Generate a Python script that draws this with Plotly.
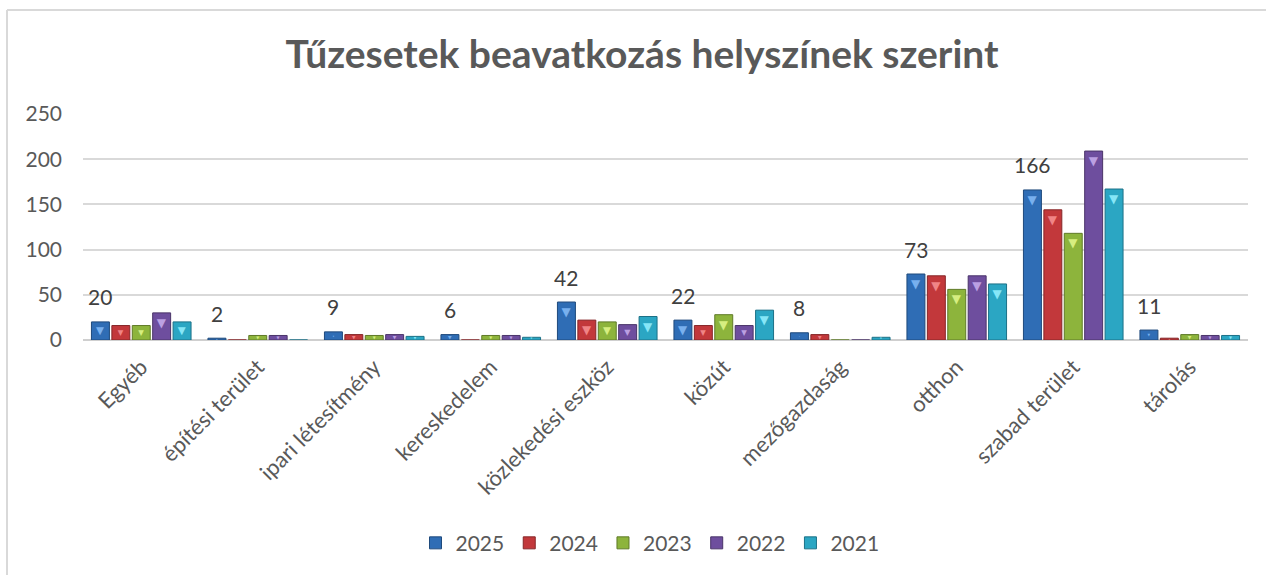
import plotly.graph_objects as go

categories = ["Egyéb", "építési terület", "ipari létesítmény", "kereskedelem",
              "közlekedési eszköz", "közút", "mezőgazdaság", "otthon",
              "szabad terület", "tárolás"]
years = ["2025", "2024", "2023", "2022", "2021"]
v2025 = [20, 2, 9, 6, 42, 22, 8, 73, 166, 11]
v2024 = [16, 0, 6, 0, 22, 16, 6, 71, 144, 2]
v2023 = [16, 5, 5, 5, 20, 28, 0, 56, 118, 6]
v2022 = [30, 5, 6, 5, 17, 16, 0, 71, 209, 5]
v2021 = [20, 0, 4, 3, 26, 33, 3, 62, 167, 5]
series = [v2025, v2024, v2023, v2022, v2021]
y_ticks = [0, 50, 100, 150, 200, 250]

colors = ["#2F6DB5", "#C2383B", "#8DB43C", "#6E4E9E", "#2BA6C3"]
edges = ["#1F4A7C", "#862628", "#5F7A28", "#4A3469", "#1C7187"]
bevels = ["#78B0EE", "#F08486", "#D6EE80", "#BBA0E2", "#86E6F7"]

W, H = 1266, 575
ML, MR, MT, MB = 83, 18, 114, 233
PW = W - ML - MR
PH = H - MT - MB
BARGAP = 0.124
FONT = "Lato, Calibri, sans-serif"

fig = go.Figure()
for name, vals, c, e, b in zip(years, series, colors, edges, bevels):
    fig.add_trace(go.Bar(
        x=categories, y=vals, name=name,
        marker=dict(color=c, line=dict(color=e, width=1)),
        text=["▼" for _ in vals], textposition="inside",
        insidetextanchor="end", textangle=0,
        textfont=dict(family="DejaVu Sans", size=12, color=b),
        hovertemplate="%{x}: %{y}<extra>" + name + "</extra>",
    ))

# data labels for 2025 series
cat_px = PW / len(categories)
slot = (1 - BARGAP) * cat_px / len(years)
off = -2 * slot
for cat, v in zip(categories, v2025):
    fig.add_annotation(x=cat, y=v, text=str(v), showarrow=False,
                       xshift=off, yshift=25, yanchor="middle",
                       font=dict(family=FONT, size=21, color="#404040"))

# outer chart border (left and top)
fig.add_shape(type="line", xref="paper", yref="paper",
              x0=(7 - ML) / PW, x1=(7 - ML) / PW,
              y0=(MT + PH - 600) / PH, y1=(MT + PH - 9) / PH,
              line=dict(color="#D9D9D9", width=2), layer="below")
fig.add_shape(type="line", xref="paper", yref="paper",
              x0=(7 - ML) / PW, x1=(1300 - ML) / PW,
              y0=(MT + PH - 9) / PH, y1=(MT + PH - 9) / PH,
              line=dict(color="#D9D9D9", width=2), layer="below")

fig.update_layout(
    width=W, height=H,
    margin=dict(l=ML, r=MR, t=MT, b=MB),
    paper_bgcolor="white", plot_bgcolor="white",
    barmode="group", bargap=BARGAP, bargroupgap=0.12,
    title=dict(text="<b>Tűzesetek beavatkozás helyszínek szerint</b>",
               x=(642 - ML) / PW, xref="paper", xanchor="center",
               y=1 - 54 / H, yref="container", yanchor="middle",
               font=dict(family=FONT, size=39, color="#595959")),
    font=dict(family=FONT, color="#595959"),
    legend=dict(orientation="h", x=(650 - ML) / PW, xanchor="center",
                y=(MT + PH - 547) / PH, yanchor="middle",
                font=dict(size=21, color="#595959"), itemwidth=30,
                traceorder="normal"),
    showlegend=True,
)
fig.update_yaxes(range=[0, 250], tickvals=y_ticks, showgrid=True,
                 gridcolor="#D9D9D9", gridwidth=1.5,
                 zeroline=True, zerolinecolor="#CFCFCF", zerolinewidth=2,
                 tickfont=dict(size=21, color="#595959"),
                 ticklabelstandoff=20, showline=False)
fig.update_xaxes(tickangle=-45, tickfont=dict(size=22, color="#595959"),
                 showline=False, showgrid=False, ticklabelstandoff=9)

fig.write_html("out.html", config={"displayModeBar": False},
               post_script="document.body.style.margin='0';")
